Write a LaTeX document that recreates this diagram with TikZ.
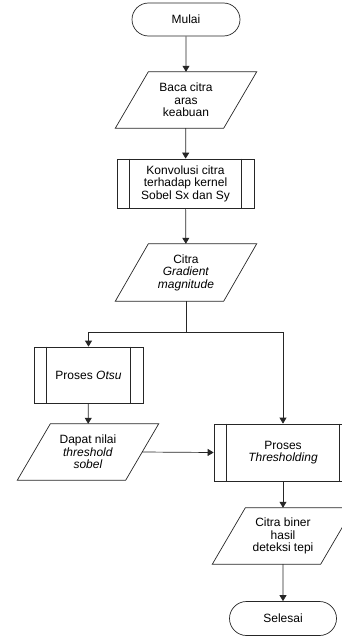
\documentclass[tikz,border=0pt]{standalone}
\usepackage{fontspec}
\setmainfont{Liberation Sans}
\usetikzlibrary{arrows.meta,shapes.misc}
\begin{document}
\begin{tikzpicture}[x=1pt,y=1pt,
  every node/.style={font=\fontsize{12pt}{12.5pt}\selectfont, align=center, inner sep=0pt},
  ln/.style={line width=0.7pt, draw=black!85},
  arr/.style={ln, -{Triangle[length=6pt,width=7pt]}},
  terminal/.style={ln, draw, rounded rectangle, minimum width=108pt, minimum height=33pt},
  iobox/.style={minimum width=108pt, minimum height=56pt},
  procbox/.style={ln, draw, rectangle, minimum width=137pt, minimum height=49pt}
]
\useasboundingbox (0,0) rectangle (342,-637);
% nodes
\node[terminal] (mulai) at (186,-19.5) {Mulai};
\node[iobox] (baca) at (186,-100) {Baca citra\\aras\\keabuan};
\node[procbox] (konv) at (185.5,-183.5) {Konvolusi citra\\terhadap kernel\\Sobel Sx dan Sy};
\node[iobox, minimum height=57pt] (grad) at (186,-272.5) {Citra\\\textit{Gradient}\\\textit{magnitude}};
\coordinate (j) at (186,-332);
\node[procbox, minimum width=109pt, minimum height=56pt] (otsu) at (88.5,-375) {Proses \textit{Otsu}};
\node[iobox] (dapat) at (88,-452) {Dapat nilai\\\textit{threshold}\\\textit{sobel}};
\node[procbox, minimum width=138pt, minimum height=57pt] (thresh) at (283,-452.5) {Proses\\\textit{Thresholding}};
\node[iobox] (biner) at (283,-536) {Citra biner\\hasil\\deteksi tepi};
\node[terminal, minimum width=107pt, minimum height=34pt] (selesai) at (283,-618.5) {Selesai};
% parallelogram outlines
\foreach \n in {baca,grad,dapat,biner}{
  \draw[ln] ([xshift=16.5pt]\n.north west) -- ([xshift=16.5pt]\n.north east)
    -- ([xshift=-16.5pt]\n.south east) -- ([xshift=-16.5pt]\n.south west) -- cycle;
}
% predefined process inner lines
\foreach \n in {konv,otsu,thresh}{
  \draw[ln] ([xshift=13pt]\n.north west) -- ([xshift=13pt]\n.south west);
  \draw[ln] ([xshift=-13pt]\n.north east) -- ([xshift=-13pt]\n.south east);
}
% connectors
\draw[arr] (mulai) -- (baca);
\draw[arr] (baca) -- (konv);
\draw[arr] (konv) -- (grad);
\draw[ln] (grad.south) -- (j);
\draw[arr] (j) -| (otsu.north);
\draw[arr] (j) -| (thresh.north);
\draw[arr] (otsu) -- (dapat);
\draw[arr] (dapat.east) -- (thresh.west);
\draw[arr] (thresh) -- (biner);
\draw[arr] (biner) -- (selesai);
\end{tikzpicture}
\end{document}
